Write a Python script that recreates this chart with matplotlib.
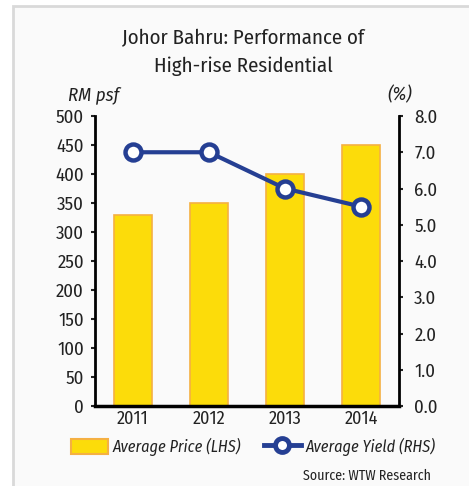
import matplotlib
matplotlib.use("Agg")
import matplotlib.pyplot as plt
from matplotlib.patches import Rectangle
from matplotlib.lines import Line2D

years = ["2011", "2012", "2013", "2014"]
avg_price = [330, 350, 400, 450]
avg_yield = [7.0, 7.0, 6.0, 5.5]

plt.rcParams['font.family'] = ['Fira Sans Condensed', 'DejaVu Sans']
plt.rcParams['font.stretch'] = 'condensed'
plt.rcParams['font.weight'] = 'normal'

fig = plt.figure(figsize=(4.69, 4.86), dpi=100)
fig.patch.set_facecolor("white")

# light panel with grey frame
fig.patches.append(Rectangle((13 / 469, -0.1), 1.2, (486 - 6) / 486 + 0.1,
                             transform=fig.transFigure, facecolor="#fafafa",
                             edgecolor="#d9d9d9", linewidth=2, zorder=-10))

ax = fig.add_axes([95 / 469, 1 - 406 / 486, (399 - 95) / 469, (406 - 116) / 486])
ax.set_facecolor("none")
x = range(len(years))
ax.bar(x, avg_price, width=0.49, color="#fcdc0a", edgecolor="#f5b042", linewidth=1.2)
ax.set_ylim(0, 500)
ax.set_xlim(-0.5, 3.5)
ax.set_yticks(range(0, 501, 50))
ax.set_xticks(list(x))
ax.set_xticklabels(years)
ax.spines["top"].set_visible(False)
ax.spines["left"].set_linewidth(2)
ax.spines["bottom"].set_linewidth(2.5)
ax.spines["right"].set_visible(False)
ax.tick_params(axis="y", length=3, width=1.5, labelsize=13.5, colors="#222222", pad=5)
ax.tick_params(axis="x", length=0, labelsize=13, colors="#222222", pad=3)

ax2 = ax.twinx()
ax2.plot(x, avg_yield, color="#253f93", linewidth=3, marker="o", markersize=11.5,
         markerfacecolor="white", markeredgecolor="#253f93", markeredgewidth=3.2)
ax2.set_ylim(0, 8)
ax2.set_yticks([i * 1.0 for i in range(9)])
ax2.set_yticklabels([f"{i:.1f}" for i in range(9)])
ax2.spines["top"].set_visible(False)
ax2.spines["left"].set_visible(False)
ax2.spines["bottom"].set_visible(False)
ax2.spines["right"].set_linewidth(2)
ax2.tick_params(axis="y", length=3, width=1.5, labelsize=13.5, colors="#222222", pad=8)

fig.text(243 / 469, 1 - 38 / 486, "Johor Bahru: Performance of", ha="center", va="center",
         fontsize=15, color="#222222")
fig.text(243 / 469, 1 - 66 / 486, "High-rise Residential", ha="center", va="center",
         fontsize=15, color="#222222")
fig.text(68 / 469, 1 - 95 / 486, "RM psf", ha="left", va="center", fontsize=13.5,
         style="italic", color="#222222")
fig.text(400 / 469, 1 - 95 / 486, "(%)", ha="center", va="center", fontsize=13.5,
         style="italic", color="#222222")

h1 = Rectangle((0, 0), 1, 1, facecolor="#fcdc0a", edgecolor="#f5b042", linewidth=1.5)
h2 = Line2D([], [], color="#253f93", linewidth=3.5, marker="o", markersize=10,
            markerfacecolor="white", markeredgecolor="#253f93", markeredgewidth=3.5)
leg = fig.legend([h1, h2], ["Average Price (LHS)", "Average Yield (RHS)"],
                 loc="center", bbox_to_anchor=(253 / 469, 1 - 447 / 486), ncol=2,
                 frameon=False, fontsize=11.7, handlelength=2.3, handleheight=1.1,
                 columnspacing=1.4, handletextpad=0.25)
for t in leg.get_texts():
    t.set_style("italic")
    t.set_color("#222222")

fig.text(431 / 469, 1 - 476 / 486, "Source: WTW Research", ha="right", va="center",
         fontsize=10, color="#222222")

fig.savefig("out.png", dpi=100)
